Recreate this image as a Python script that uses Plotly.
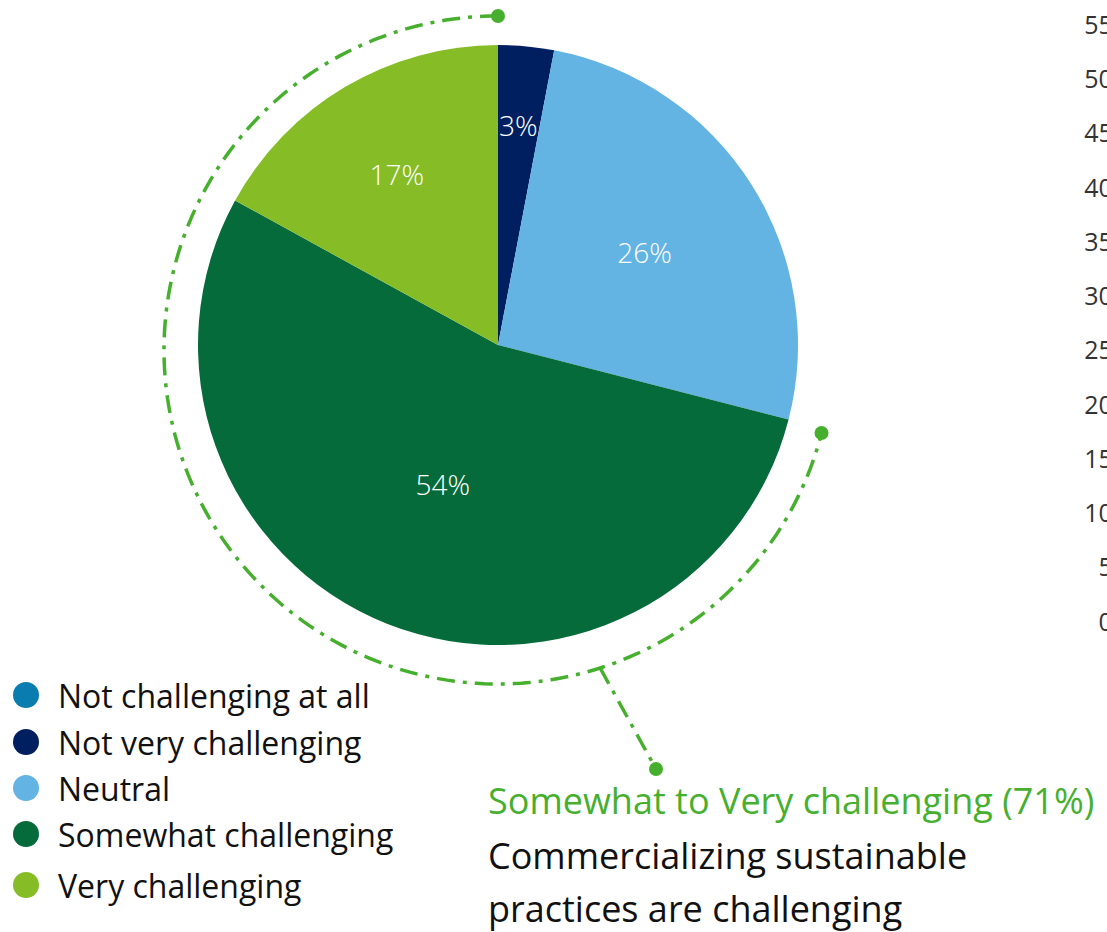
import math
import plotly.graph_objects as go

# Survey answers
categories = ["Not challenging at all", "Not very challenging", "Neutral",
              "Somewhat challenging", "Very challenging"]
shares = [0, 3, 26, 54, 17]
colors = ["#0A7DB0", "#001F60", "#63B3E3", "#066B3A", "#86BC25"]

# Values of the side axis
axis_ticks = [0, 5, 10, 15, 20, 25, 30, 35, 40, 45, 50, 55]

highlight_title = "Somewhat to Very challenging (71%)"
highlight_body = ["Commercializing sustainable", "practices are challenging"]

W, H = 1107, 932
FONT = "Open Sans, sans-serif"
GREEN = "#46B02E"
MIN_INSIDE = 5  # slices thinner than this (in %) get their label placed by hand


def px(x):
    return x / W


def py(y):
    return 1 - y / H


fig = go.Figure()

# pie: centre (498, 345), radius 300 px
pcx, pcy, pr = 498, 345, 300
slice_text = [f"{v}%" if v >= MIN_INSIDE else "" for v in shares]
label_font = dict(color="white", size=28, family=FONT, weight=300)
fig.add_trace(go.Pie(
    labels=categories, values=shares, sort=False, direction="clockwise",
    rotation=0, marker=dict(colors=colors, line=dict(width=0)),
    text=slice_text, texttemplate="%{text}", textposition="inside",
    insidetextorientation="horizontal",
    textfont=label_font,
    domain=dict(x=[px(pcx - pr), px(pcx + pr)], y=[py(pcy + pr), py(pcy - pr)]),
    showlegend=False, hoverinfo="label+percent",
))

# invisible trace so the side axis is drawn
fig.add_trace(go.Scatter(x=[0], y=[0], mode="markers", marker=dict(opacity=0),
                         showlegend=False, hoverinfo="skip"))

shapes = []
annotations = []

# labels of thin slices, set at the middle angle of their slice
total = sum(shares)
cum = 0
for v in shares:
    if 0 < v < MIN_INSIDE:
        mid = math.radians((cum + v / 2) / total * 360)
        tx = pcx + 0.735 * pr * math.sin(mid)
        ty = pcy - 0.735 * pr * math.cos(mid)
        annotations.append(dict(x=px(tx), y=py(ty), xref="paper", yref="paper",
                                text=f"{v}%", showarrow=False,
                                xanchor="center", yanchor="middle",
                                font=label_font))
    cum += v

# dash-dot arc spanning the share of "somewhat" + "very" challenging
cx, cy, r = 498, 350, 334
span = (shares[3] + shares[4]) / 100 * 360
pts = []
n = 200
for i in range(n + 1):
    a = math.radians(90 + span * i / n)
    pts.append((cx + r * math.cos(a), cy - r * math.sin(a)))
path = "M " + " L ".join(f"{px(x):.5f},{py(y):.5f}" for x, y in pts)
line_style = dict(color=GREEN, width=3.5, dash="18px,8px,4px,8px")
shapes.append(dict(type="path", xref="paper", yref="paper", path=path,
                   line=line_style))

# leader from the arc to the caption
a_lead = math.radians(-72.2)
lx0, ly0 = cx + r * math.cos(a_lead), cy - r * math.sin(a_lead)
lx1, ly1 = 656, 769
shapes.append(dict(type="line", xref="paper", yref="paper",
                   x0=px(lx0), y0=py(ly0), x1=px(lx1), y1=py(ly1),
                   line=line_style))

for (dx, dy) in [pts[0], pts[-1], (lx1, ly1)]:
    shapes.append(dict(type="circle", xref="paper", yref="paper",
                       xsizemode="pixel", ysizemode="pixel",
                       xanchor=px(dx), yanchor=py(dy),
                       x0=-7, x1=7, y0=-7, y1=7,
                       fillcolor=GREEN, line=dict(width=0)))

# legend with round markers
legend_rows = [695, 742, 788, 834, 885]
for name, col, ry in zip(categories, colors, legend_rows):
    shapes.append(dict(type="circle", xref="paper", yref="paper",
                       xsizemode="pixel", ysizemode="pixel",
                       xanchor=px(26), yanchor=py(ry),
                       x0=-13, x1=13, y0=-13, y1=13,
                       fillcolor=col, line=dict(width=0)))
    annotations.append(dict(x=px(56), y=py(ry), xref="paper", yref="paper",
                            text=name, showarrow=False, xanchor="left",
                            yanchor="middle",
                            font=dict(size=32, color="#111111", family=FONT)))

# caption
annotations.append(dict(x=px(486), y=py(800), xref="paper", yref="paper",
                        text=highlight_title, showarrow=False, xanchor="left",
                        yanchor="middle",
                        font=dict(size=36, color=GREEN, family=FONT)))
for txt, ry in zip(highlight_body, [855, 908]):
    annotations.append(dict(x=px(486), y=py(ry), xref="paper", yref="paper",
                            text=txt, showarrow=False, xanchor="left",
                            yanchor="middle",
                            font=dict(size=36, color="#111111", family=FONT)))

fig.update_layout(
    width=W, height=H, margin=dict(l=0, r=0, t=0, b=0, autoexpand=False),
    paper_bgcolor="white", plot_bgcolor="rgba(0,0,0,0)",
    shapes=shapes, annotations=annotations,
    xaxis=dict(domain=[0.999, 1], visible=False, range=[0, 1]),
    yaxis=dict(domain=[py(622), py(25)], range=[0, 55], tickvals=axis_ticks,
               showgrid=False, zeroline=False, showline=False, automargin=False,
               ticks="", ticklabelstandoff=-8,
               tickfont=dict(size=25, color="#333333", family=FONT)),
)

fig.write_html("out.html")
